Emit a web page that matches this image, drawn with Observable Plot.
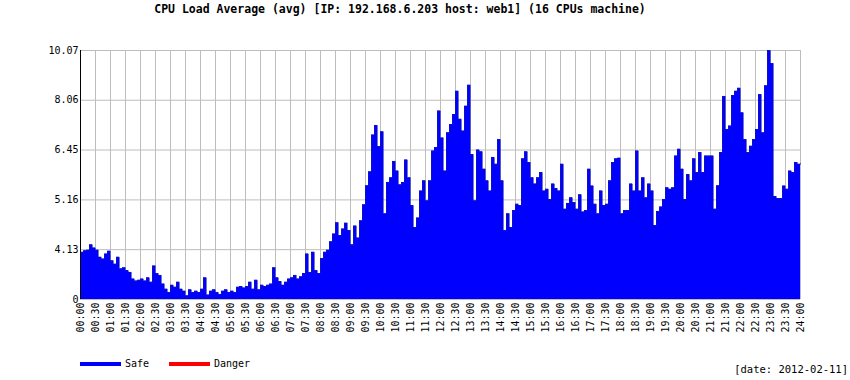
<!DOCTYPE html>
<html><head><meta charset="utf-8">
<script src="https://cdn.jsdelivr.net/npm/d3@7"></script>
<script src="https://cdn.jsdelivr.net/npm/@observablehq/plot@0.6"></script>
<style>
body{margin:0;background:#fff;width:850px;height:380px;overflow:hidden;font-family:"DejaVu Sans Mono",monospace;color:#000}
#title{height:20px;position:relative}
#title span{position:absolute;left:400px;top:2px;transform:translateX(-50%);font-weight:bold;font-size:11.5px;line-height:14px;white-space:nowrap}
#legend{position:relative;height:30px;font-size:10px;line-height:12px}
#legend span{position:absolute;white-space:nowrap}
#legend .sw{position:absolute;width:41px;height:4px;top:12px}
</style></head>
<body>
<div id="title"><span>CPU Load Average (avg) [IP: 192.168.6.203 host: web1] (16 CPUs machine)</span></div>
<div id="chart"></div>
<div id="legend">
  <div class="sw" style="left:80px;background:#0000ff"></div>
  <span style="left:125px;top:8px">Safe</span>
  <div class="sw" style="left:169px;background:#ff0000"></div>
  <span style="left:214px;top:8px">Danger</span>
  <span style="right:2px;top:13px;font-size:10.5px">[date: 2012-02-11]</span>
</div>
<script>
const stepMinutes = 6;
const loadValues = [
  4.08, 4.11, 4.12, 4.22, 4.16, 4.12, 3.99, 3.96, 4.05, 4.10,
  3.93, 3.87, 3.99, 3.79, 3.81, 3.76, 3.73, 3.62, 3.59, 3.60,
  3.62, 3.59, 3.64, 3.57, 3.84, 3.71, 3.68, 3.54, 3.46, 3.41,
  3.52, 3.49, 3.57, 3.46, 3.43, 3.36, 3.45, 3.41, 3.43, 3.41,
  3.46, 3.64, 3.37, 3.43, 3.45, 3.41, 3.38, 3.43, 3.45, 3.41,
  3.43, 3.41, 3.49, 3.50, 3.48, 3.50, 3.57, 3.46, 3.60, 3.45,
  3.52, 3.50, 3.52, 3.54, 3.81, 3.64, 3.58, 3.52, 3.57, 3.62,
  3.64, 3.68, 3.62, 3.66, 3.71, 4.05, 3.73, 4.08, 3.76, 3.71,
  3.97, 4.08, 4.12, 4.28, 4.43, 4.66, 4.40, 4.53, 4.65, 4.50,
  4.22, 4.59, 4.35, 4.70, 5.05, 5.50, 5.85, 6.90, 7.20, 6.55,
  7.00, 4.85, 5.58, 5.70, 6.13, 5.87, 5.52, 5.58, 6.17, 5.70,
  5.03, 4.56, 4.76, 5.37, 5.62, 5.14, 5.62, 6.42, 6.52, 7.68,
  6.81, 5.87, 6.97, 7.23, 7.56, 8.39, 7.40, 7.02, 7.85, 8.62,
  6.32, 5.14, 6.45, 6.40, 5.92, 5.62, 5.37, 6.24, 6.05, 6.76,
  5.62, 4.50, 4.85, 4.56, 4.92, 5.06, 5.03, 6.20, 6.40, 6.10,
  5.70, 5.54, 5.70, 5.83, 5.37, 5.41, 5.17, 5.54, 5.43, 5.37,
  6.05, 4.95, 5.08, 5.21, 5.10, 4.95, 5.28, 4.89, 4.92, 5.92,
  5.49, 5.06, 4.85, 5.37, 5.03, 5.06, 5.62, 6.10, 6.20, 6.22,
  4.85, 4.92, 4.92, 5.54, 5.37, 6.42, 5.37, 5.70, 5.21, 5.54,
  5.37, 4.60, 4.90, 5.00, 5.17, 5.45, 5.41, 5.45, 6.28, 6.47,
  5.92, 5.17, 5.78, 5.62, 6.20, 5.83, 6.38, 5.83, 6.28, 6.28,
  6.28, 4.95, 5.50, 6.38, 8.20, 7.07, 7.18, 8.23, 8.39, 8.50,
  7.62, 6.76, 6.38, 6.56, 6.76, 7.07, 8.27, 6.97, 8.60, 10.07,
  9.50, 5.24, 5.19, 5.19, 5.49, 5.41, 5.87, 5.83, 6.10, 6.05,
  6.08
];
const xTickMinutes = d3.range(0, 1441, 30);
const xTickLabels = xTickMinutes.map(m => String(Math.floor(m / 60)).padStart(2, "0") + ":" + String(m % 60).padStart(2, "0"));
const yTickValues = [3.304, 4.13, 5.16, 6.45, 8.06, 10.07];
const yTickLabels = ["0", "4.13", "5.16", "6.45", "8.06", "10.07"];
const yBase = yTickValues[0];
const data = loadValues.map((v, i) => ({t: i * stepMinutes, v}));

const chart = Plot.plot({
  width: 850, height: 330,
  marginLeft: 80, marginRight: 50, marginTop: 30, marginBottom: 51,
  style: {fontFamily: "'DejaVu Sans Mono', monospace", fontSize: "10px", background: "#fff", color: "#000"},
  x: {domain: [0, 1440], ticks: xTickMinutes, tickFormat: m => xTickLabels[xTickMinutes.indexOf(m)], tickRotate: -90, tickSize: 0, tickPadding: 3, label: null},
  y: {type: "log", domain: [yBase, 10.07], clamp: true, ticks: yTickValues, tickFormat: v => yTickLabels[yTickValues.indexOf(v)], tickSize: 0, tickPadding: 2, label: null},
  marks: [
    Plot.gridX(xTickMinutes, {stroke: "#bdbdbd", strokeOpacity: 1}),
    Plot.gridY(yTickValues, {stroke: "#bdbdbd", strokeOpacity: 1}),
    Plot.areaY(data, {x: "t", y1: yBase, y2: "v", fill: "#0000ff", curve: "step-after"}),
    Plot.line(data, {x: "t", y: "v", stroke: "#1a1aa8", strokeWidth: 0.6, curve: "step-after"}),
    Plot.ruleX([0], {stroke: "#000"})
  ]
});
document.getElementById("chart").appendChild(chart);
</script>
</body></html>
